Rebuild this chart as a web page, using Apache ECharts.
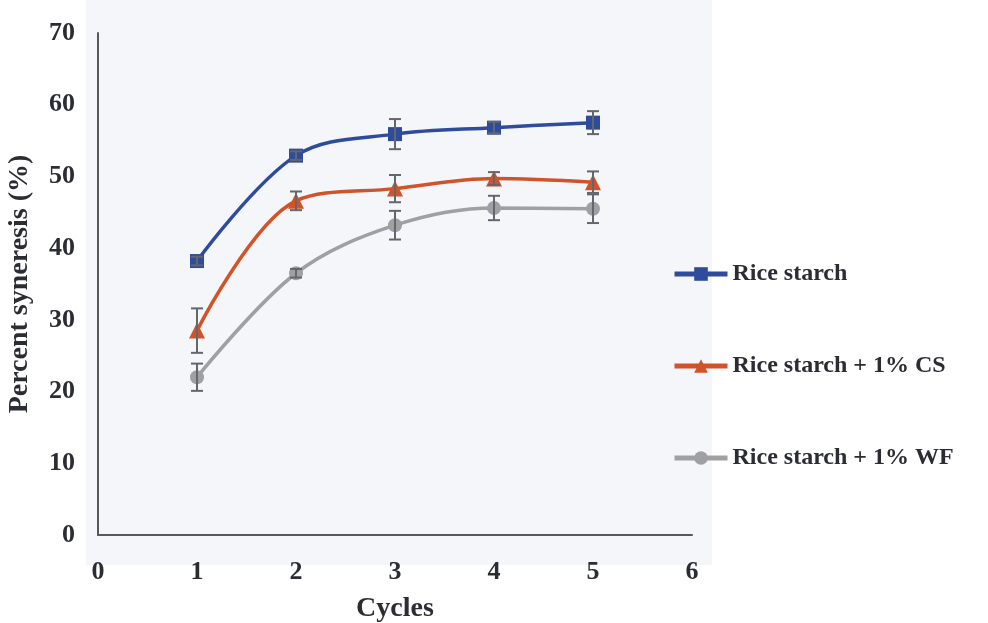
<!DOCTYPE html>
<html><head><meta charset="utf-8">
<script src="https://cdn.jsdelivr.net/npm/echarts@6/dist/echarts.min.js"></script>
<style>html,body{margin:0;padding:0;background:#fff}#c{width:988px;height:623px}</style>
</head><body><div id="c"></div>
<script>
const cycles = [1, 2, 3, 4, 5];
const riceStarch = [38.2, 52.9, 55.9, 56.8, 57.5];
const riceStarchErr = [0.6, 0.6, 2.1, 0.8, 1.6];
const riceCS = [28.5, 46.6, 48.3, 49.7, 49.2];
const riceCSErr = [3.1, 1.3, 1.9, 0.9, 1.5];
const riceWF = [22.0, 36.5, 43.2, 45.6, 45.5];
const riceWFErr = [1.9, 0.6, 2.0, 1.7, 2.0];
const xTicks = [0, 1, 2, 3, 4, 5, 6];
const yTicks = [0, 10, 20, 30, 40, 50, 60, 70];
const names = ['Rice starch', 'Rice starch + 1% CS', 'Rice starch + 1% WF'];
const colors = ['#2f4b9c', '#d0532a', '#a0a0a3'];

const font = 'Liberation Serif, Times New Roman, serif';
const txt = '#2b2d33';
const chart = echarts.init(document.getElementById('c'), null, {renderer: 'canvas'});

function pairs(vals) { return cycles.map((c, i) => [c, vals[i]]); }
function errData(vals, errs) { return cycles.map((c, i) => [c, vals[i] - errs[i], vals[i] + errs[i]]); }
function errSeries(vals, errs, z) {
  return {
    type: 'custom', z: z, silent: true,
    data: errData(vals, errs),
    renderItem: function (params, api) {
      const x = api.value(0);
      const lo = api.coord([x, api.value(1)]);
      const hi = api.coord([x, api.value(2)]);
      const w = 6;
      const st = {stroke: '#62666f', lineWidth: 2};
      return {type: 'group', children: [
        {type: 'line', shape: {x1: lo[0], y1: lo[1], x2: hi[0], y2: hi[1]}, style: st},
        {type: 'line', shape: {x1: lo[0] - w, y1: lo[1], x2: lo[0] + w, y2: lo[1]}, style: st},
        {type: 'line', shape: {x1: hi[0] - w, y1: hi[1], x2: hi[0] + w, y2: hi[1]}, style: st}
      ]};
    }
  };
}
const legendBase = {
  orient: 'vertical', left: 667, itemWidth: 53, itemHeight: 17, itemGap: 0,
  lineStyle: {width: 5},
  textStyle: {fontFamily: font, fontWeight: 'bold', fontSize: 24, color: txt}
};
chart.setOption({
  animation: false,
  graphic: [{type: 'rect', z: -10, shape: {x: 86, y: 0, width: 626, height: 565}, style: {fill: '#f4f6fa'}}],
  grid: {left: 98, right: 296, top: 33, bottom: 88, outerBoundsMode: 'none', containLabel: false},
  legend: [
    Object.assign({}, legendBase, {top: 257, data: [names[0]]}),
    Object.assign({}, legendBase, {top: 349, data: [names[1]]}),
    Object.assign({}, legendBase, {top: 441, data: [names[2]]})
  ],
  xAxis: {
    type: 'value', min: 0, max: 6, interval: 1,
    name: 'Cycles', nameLocation: 'middle', nameGap: 60,
    nameTextStyle: {fontFamily: font, fontWeight: 'bold', fontSize: 28, color: txt},
    axisLine: {lineStyle: {color: '#55585f', width: 2}},
    axisTick: {show: false}, splitLine: {show: false},
    axisLabel: {margin: 24, fontFamily: font, fontWeight: 'bold', fontSize: 26, color: txt,
      formatter: v => xTicks.includes(v) ? String(v) : ''}
  },
  yAxis: {
    type: 'value', min: 0, max: 70, interval: 10,
    name: 'Percent syneresis (%)', nameLocation: 'middle', nameGap: 64,
    nameTextStyle: {fontFamily: font, fontWeight: 'bold', fontSize: 28, color: txt},
    axisLine: {show: true, lineStyle: {color: '#55585f', width: 2}},
    axisTick: {show: false}, splitLine: {show: false},
    axisLabel: {margin: 23, fontFamily: font, fontWeight: 'bold', fontSize: 26, color: txt,
      formatter: v => yTicks.includes(v) ? String(v) : ''}
  },
  series: [
    {name: names[0], type: 'line', smooth: 0.35, data: pairs(riceStarch), symbol: 'rect', symbolSize: 14,
      lineStyle: {color: colors[0], width: 3.5}, itemStyle: {color: colors[0]}, z: 3},
    {name: names[1], type: 'line', smooth: 0.35, data: pairs(riceCS), symbol: 'triangle', symbolSize: 16,
      lineStyle: {color: colors[1], width: 3.5}, itemStyle: {color: colors[1]}, z: 3},
    {name: names[2], type: 'line', smooth: 0.35, data: pairs(riceWF), symbol: 'circle', symbolSize: 14,
      lineStyle: {color: colors[2], width: 3.5}, itemStyle: {color: colors[2]}, z: 3},
    errSeries(riceStarch, riceStarchErr, 4),
    errSeries(riceCS, riceCSErr, 4),
    errSeries(riceWF, riceWFErr, 4)
  ]
});
</script></body></html>
